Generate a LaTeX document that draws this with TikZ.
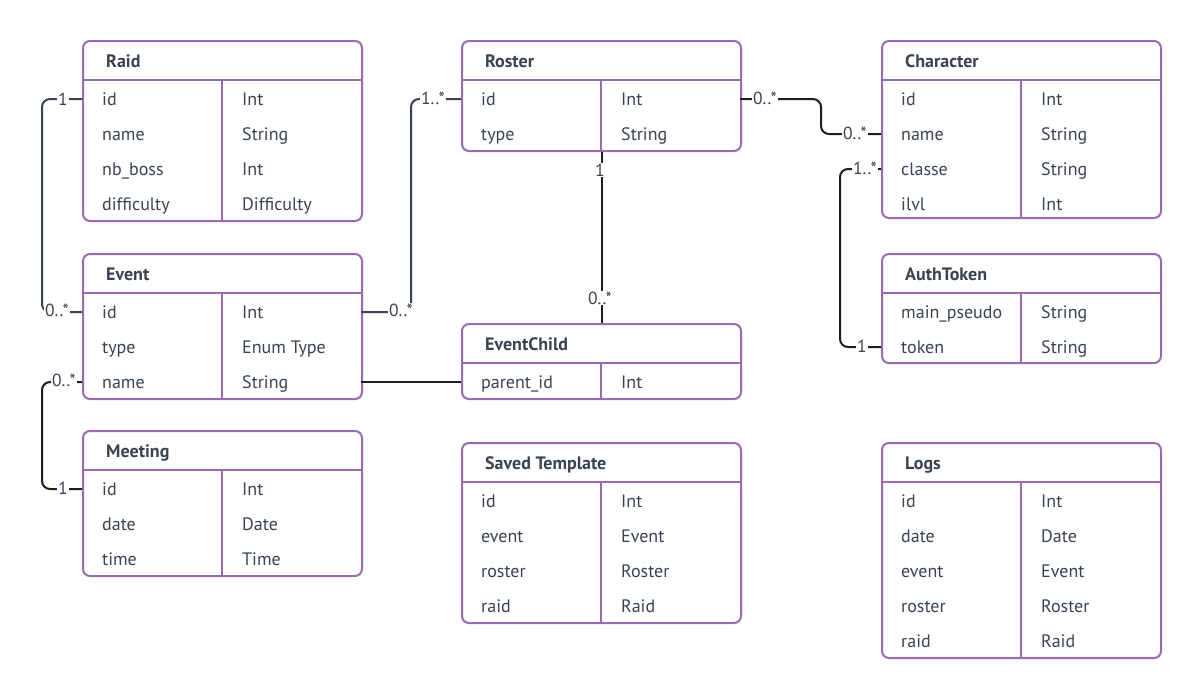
\documentclass[tikz,border=0pt]{standalone}
\usepackage{fontspec}
\setmainfont{PT Sans}
\usetikzlibrary{calc}
\definecolor{boxc}{HTML}{9B6BB0}
\definecolor{txtc}{HTML}{3A4450}
\definecolor{linec}{HTML}{1E1E1E}
\definecolor{slatec}{HTML}{3A4450}
\tikzset{
  tblbox/.style={draw=boxc, line width=2pt, rounded corners=7pt, fill=white, anchor=north west, minimum width=279pt, inner sep=0pt},
  sepline/.style={draw=boxc, line width=2pt},
  cell/.style={anchor=base west, inner sep=0pt, text=txtc, font=\fontsize{18}{20}\selectfont},
  ttl/.style={anchor=base west, inner sep=0pt, text=txtc, font=\fontsize{18}{20}\selectfont\bfseries},
  conn/.style={draw=linec, line width=2pt, rounded corners=8pt},
  lbl/.style={fill=white, inner sep=1pt, text=txtc, font=\fontsize{17.5}{19}\selectfont},
}
% #1 name, #2 x, #3 y, #4 height, #5 title, #6 rows
\newcommand\ertable[6]{%
  \node[tblbox, minimum height=#4pt] (#1) at (#2,#3) {};
  \draw[sepline] ($(#1.north west)+(0,40)$) -- ($(#1.north east)+(0,40)$);
  \draw[sepline] ($(#1.north west)+(140,40)$) -- ($(#1.south west)+(140,0)$);
  \node[ttl] (#1-t) at ({#2+24},{#3+27}) {#5};
  \foreach \a/\b [count=\i] in {#6} {
    \coordinate (#1-\i) at (#2,{#3+59+(\i-1)*35});
    \coordinate (#1-\i-r) at ({#2+279},{#3+59+(\i-1)*35});
    \node[cell] (#1-\i-a) at ({#2+20},{#3+65.5+(\i-1)*35}) {\a};
    \node[cell] (#1-\i-b) at ({#2+160},{#3+65.5+(\i-1)*35}) {\b};
  }
}
\begin{document}
\begin{tikzpicture}[x=1pt,y=-1pt]
\useasboundingbox (0,0) rectangle (1198,697);
\fill[white] (0,0) rectangle (1198,697);

\ertable{raid}{82}{40}{180}{Raid}{id/Int, name/String, nb\_boss/Int, difficulty/Difficulty}
\ertable{roster}{461}{40}{110}{Roster}{id/Int, type/String}
\ertable{char}{881}{40}{177}{Character}{id/Int, name/String, classe/String, ilvl/Int}
\ertable{event}{82}{253}{145}{Event}{id/Int, type/Enum Type, name/String}
\ertable{auth}{881}{253}{109}{AuthToken}{main\_pseudo/String, token/String}
\ertable{evchild}{461}{323}{75}{EventChild}{parent\_id/Int}
\ertable{meeting}{82}{430}{145}{Meeting}{id/Int, date/Date, time/Time}
\ertable{saved}{461}{442}{180}{Saved Template}{id/Int, event/Event, roster/Roster, raid/Raid}
\ertable{logs}{881}{442}{215}{Logs}{id/Int, date/Date, event/Event, roster/Roster, raid/Raid}

% connectors
\draw[conn, draw=slatec] (raid-1) -- ++(-40,0) |- (event-1);
\draw[conn, draw=slatec] (event-1-r) -- ++(50,0) |- (roster-1);
\draw[conn] (roster-1-r) -- ++(81,0) |- (char-2);
\draw[conn] (char-3) -- ++(-41,0) |- (auth-2);
\draw[conn] (event-3) -- ++(-40,0) |- (meeting-1);
\draw[conn] (roster.south) -- (evchild.north);
\draw[conn, rounded corners=0pt] (event-3-r) -- ++(71,0) |- (evchild-1);

% multiplicity labels
\node[lbl] (m1a) at (63,99) {1};
\node[lbl] (m1b) at (57,310) {0..*};
\node[lbl] (m2a) at (401,310) {0..*};
\node[lbl] (m2b) at (433,98) {1..*};
\node[lbl] (m3a) at (765,98) {0..*};
\node[lbl] (m3b) at (855,133) {0..*};
\node[lbl] (m4a) at (865,168) {1..*};
\node[lbl] (m4b) at (862,346) {1};
\node[lbl] (m5a) at (64,380) {0..*};
\node[lbl] (m5b) at (63,488) {1};
\node[lbl] (m6a) at (600,170) {1};
\node[lbl] (m6b) at (600,298) {0..*};
\end{tikzpicture}
\end{document}
